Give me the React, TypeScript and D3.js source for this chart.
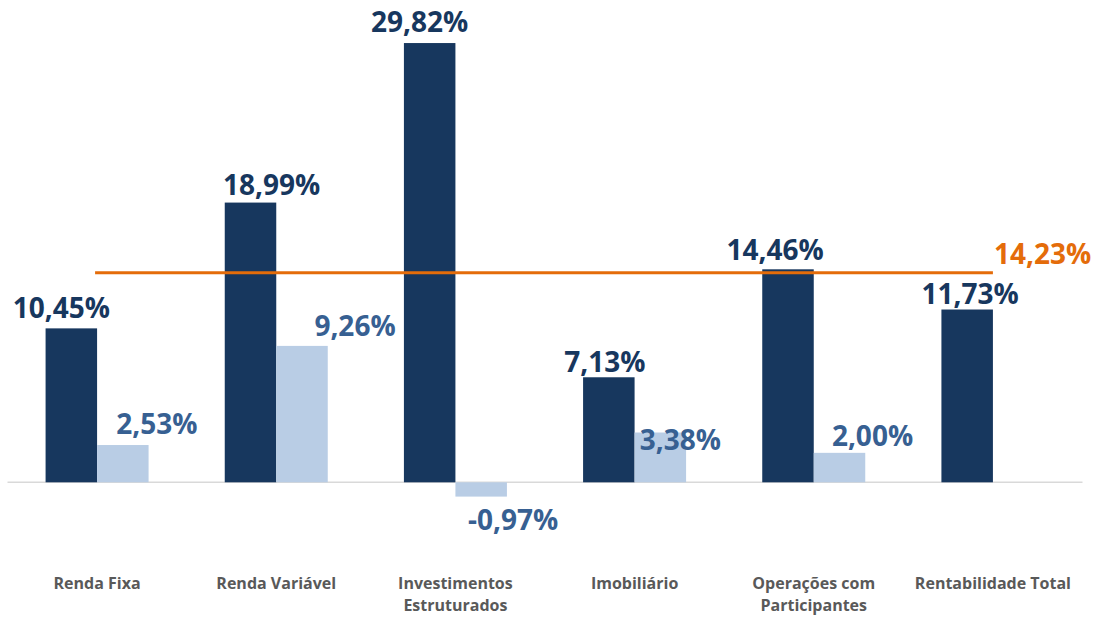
import React from 'react';
import * as d3 from 'd3';

// categorias e valores (%)
const categories = [
  'Renda Fixa',
  'Renda Variável',
  'Investimentos Estruturados',
  'Imobiliário',
  'Operações com Participantes',
  'Rentabilidade Total',
];
const categoryLines = [
  ['Renda Fixa'],
  ['Renda Variável'],
  ['Investimentos', 'Estruturados'],
  ['Imobiliário'],
  ['Operações com', 'Participantes'],
  ['Rentabilidade Total'],
];
const seriesA = [10.45, 18.99, 29.82, 7.13, 14.46, 11.73];
const seriesB: (number | null)[] = [2.53, 9.26, -0.97, 3.38, 2.0, null];
const benchmark = 14.23;

// ajuste manual dos rótulos (como no gráfico original)
const nudgeA = [[-10, -10], [21, -8], [-10, -11], [-4, -5], [-13, -9], [3, -6]];
const nudgeB = [[34, -11], [53, -10], [32, 33], [20, 17], [33, -7], [0, 0]];

const W = 1096;
const H = 618;
const DARK = '#17375E';
const LIGHT = '#B9CDE5';
const LIGHT_TXT = '#376092';
const ORANGE = '#E46C0A';

const fmt = (v: number) => v.toFixed(2).replace('.', ',') + '%';

export default function App() {
  const x = d3.scaleBand<string>().domain(categories).range([7.5, 1082.5]);
  const y = d3.scaleLinear().domain([0, 30]).range([482.3, 40.4]);
  const barW = 51.5;

  const center = (c: string) => (x(c) ?? 0) + x.bandwidth() / 2;
  const lineX1 = center(categories[0]) - 2;
  const lineX2 = center(categories[categories.length - 1]);

  const valueFont = { fontFamily: '"Open Sans", sans-serif', fontWeight: 700, fontSize: 28 };

  return (
    <svg width={W} height={H} style={{ position: 'absolute', left: 0, top: 0 }}>
      <rect width={W} height={H} fill="#fff" />
      {/* eixo */}
      <line x1={7.5} x2={1082.5} y1={y(0)} y2={y(0)} stroke="#D9D9D9" strokeWidth={1.5} />

      {categories.map((c, i) => {
        const cx = center(c);
        const a = seriesA[i];
        const b = seriesB[i];
        return (
          <g key={c}>
            <rect x={cx - barW} y={y(a)} width={barW} height={y(0) - y(a)} fill={DARK} />
            {b !== null && (
              <rect
                x={cx}
                y={Math.min(y(b), y(0))}
                width={barW}
                height={Math.abs(y(0) - y(b))}
                fill={LIGHT}
              />
            )}
          </g>
        );
      })}

      {/* linha de rentabilidade total */}
      <line x1={lineX1} x2={lineX2} y1={y(benchmark)} y2={y(benchmark)} stroke={ORANGE} strokeWidth={3} />
      <text x={lineX2 + 1} y={y(benchmark) - 9} fill={ORANGE} style={valueFont}>
        {fmt(benchmark)}
      </text>

      {categories.map((c, i) => {
        const cx = center(c);
        const a = seriesA[i];
        const b = seriesB[i];
        return (
          <g key={c + '-lbl'}>
            <text
              x={cx - barW / 2 + nudgeA[i][0]}
              y={y(a) + nudgeA[i][1]}
              textAnchor="middle"
              fill={DARK}
              style={valueFont}
            >
              {fmt(a)}
            </text>
            {b !== null && (
              <text
                x={cx + barW / 2 + nudgeB[i][0]}
                y={y(b) + nudgeB[i][1]}
                textAnchor="middle"
                fill={LIGHT_TXT}
                style={valueFont}
              >
                {fmt(b)}
              </text>
            )}
          </g>
        );
      })}

      {categories.map((c, i) => (
        <text
          key={c + '-cat'}
          x={center(c)}
          y={589}
          textAnchor="middle"
          fill="#595959"
          style={{ fontFamily: '"Open Sans", sans-serif', fontWeight: 700, fontSize: 16 }}
        >
          {categoryLines[i].map((l, j) => (
            <tspan key={j} x={center(c)} dy={j === 0 ? 0 : 22}>
              {l}
            </tspan>
          ))}
        </text>
      ))}
    </svg>
  );
}
